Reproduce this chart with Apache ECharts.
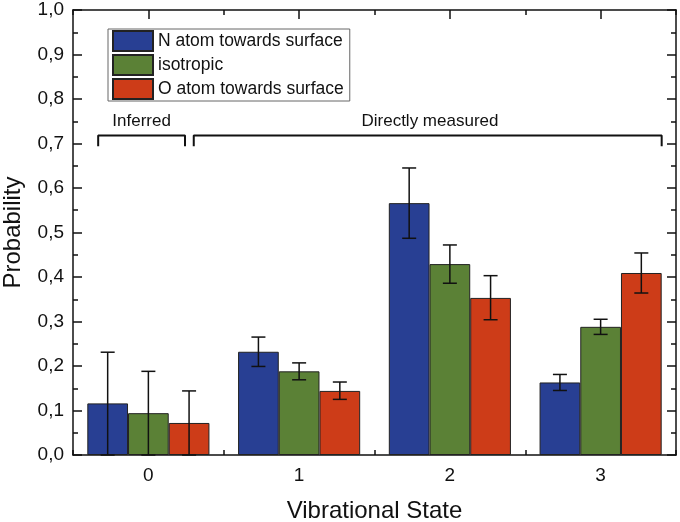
<!DOCTYPE html>
<html>
<head>
<meta charset="utf-8">
<script src="https://cdn.jsdelivr.net/npm/echarts@6/dist/echarts.min.js"></script>
<style>
html,body{margin:0;padding:0;background:#fff;}
#main{width:680px;height:522px;}
</style>
</head>
<body>
<div id="main"></div>
<script>
// ---- data ----
const categories = ['0', '1', '2', '3'];
const seriesNames = ['N atom towards surface', 'isotropic', 'O atom towards surface'];
const nValues   = [0.116, 0.232, 0.566, 0.163];
const isoValues = [0.094, 0.188, 0.429, 0.288];
const oValues   = [0.072, 0.144, 0.353, 0.409];
// error bar bounds [low, high]
const nErrLow    = [0.000, 0.199, 0.487, 0.145];
const nErrHigh   = [0.231, 0.265, 0.645, 0.181];
const isoErrLow  = [0.000, 0.169, 0.386, 0.271];
const isoErrHigh = [0.188, 0.207, 0.472, 0.305];
const oErrLow    = [0.000, 0.125, 0.304, 0.364];
const oErrHigh   = [0.144, 0.164, 0.403, 0.454];
// annotation brackets (x in category units, y in probability)
const inferredBracketX = [-0.333, 0.243];
const measuredBracketX = [0.301, 3.405];
const bracketTop = 0.718;
const bracketEnd = 0.694;
const annotationLabels = ['Inferred', 'Directly measured'];
const annotationX = [-0.045, 1.868];
const annotationY = 0.75;

const colors = ['#283f93', '#5b8136', '#cd3c18'];
const FONT = '"Liberation Sans", Arial, Helvetica, sans-serif';

const values = [nValues, isoValues, oValues];
const errLow = [nErrLow, isoErrLow, oErrLow];
const errHigh = [nErrHigh, isoErrHigh, oErrHigh];

const chart = echarts.init(document.getElementById('main'), null, {renderer: 'canvas'});

const barCategoryGap = 0.19;

function makeErrSeries(k) {
  return {
    type: 'custom',
    name: 'err' + k,
    xAxisIndex: 0,
    yAxisIndex: 0,
    z: 5,
    silent: true,
    data: categories.map((c, i) => [i, errLow[k][i], errHigh[k][i]]),
    renderItem: function (params, api) {
      const cat = api.value(0);
      const lo = api.coord([cat, api.value(1)]);
      const hi = api.coord([cat, api.value(2)]);
      const band = api.size([1, 0])[0];
      const bw = band * (1 - barCategoryGap) / 3;
      const x = lo[0] + (k - 1) * bw;
      const half = 7;
      const style = {stroke: '#111', lineWidth: 1.5, fill: null};
      return {
        type: 'group',
        children: [
          {type: 'line', shape: {x1: x, y1: lo[1], x2: x, y2: hi[1]}, style: style},
          {type: 'line', shape: {x1: x - half, y1: hi[1], x2: x + half, y2: hi[1]}, style: style},
          {type: 'line', shape: {x1: x - half, y1: lo[1], x2: x + half, y2: lo[1]}, style: style}
        ]
      };
    }
  };
}

function bracket(xs) {
  return [[xs[0], bracketEnd], [xs[0], bracketTop], [xs[1], bracketTop], [xs[1], bracketEnd]];
}

const axisLineStyle = {color: '#111', width: 1.5};

const option = {
  animation: false,
  backgroundColor: '#fff',
  textStyle: {fontFamily: FONT},
  grid: {left: 73, right: 4, top: 10, bottom: 67, containLabel: false, outerBoundsMode: 'none'},
  legend: {
    data: seriesNames,
    orient: 'vertical',
    left: 108,
    top: 29,
    itemWidth: 40,
    itemHeight: 20,
    itemGap: 2,
    padding: [1, 6, 1, 4],
    borderColor: '#666',
    borderWidth: 1,
    backgroundColor: '#fff',
    icon: 'rect',
    selectedMode: false,
    textStyle: {fontSize: 17.5, color: '#111', fontFamily: FONT}
  },
  xAxis: [
    {
      type: 'category', data: categories, position: 'bottom',
      axisLine: {show: true, onZero: false, lineStyle: axisLineStyle},
      axisTick: {show: true, inside: true, alignWithLabel: true, length: 9, lineStyle: axisLineStyle},
      axisLabel: {fontSize: 19, color: '#111', margin: 11, fontFamily: FONT},
      splitLine: {show: false},
      name: 'Vibrational State', nameLocation: 'middle', nameGap: 44,
      nameTextStyle: {fontSize: 24, color: '#111', fontFamily: FONT}
    },
    {
      type: 'category', data: categories, position: 'bottom',
      axisLine: {show: false, onZero: false},
      axisTick: {show: true, inside: true, length: 5, lineStyle: axisLineStyle},
      axisLabel: {show: false}, splitLine: {show: false}
    },
    {
      type: 'category', data: categories, position: 'top',
      axisLine: {show: true, onZero: false, lineStyle: axisLineStyle},
      axisTick: {show: true, inside: true, alignWithLabel: true, length: 9, lineStyle: axisLineStyle},
      axisLabel: {show: false}, splitLine: {show: false}
    },
    {
      type: 'category', data: categories, position: 'top',
      axisLine: {show: false, onZero: false},
      axisTick: {show: true, inside: true, length: 5, lineStyle: axisLineStyle},
      axisLabel: {show: false}, splitLine: {show: false}
    },
    {
      type: 'value', min: -0.5, max: 3.5, show: false,
      axisLine: {show: false, onZero: false}
    }
  ],
  yAxis: [
    {
      type: 'value', min: 0, max: 1, interval: 0.1, position: 'left',
      axisLine: {show: true, onZero: false, lineStyle: axisLineStyle},
      axisTick: {show: true, inside: true, length: 9, lineStyle: axisLineStyle},
      minorTick: {show: true, splitNumber: 2, length: 5, lineStyle: {color: '#111', width: 1.5}},
      axisLabel: {fontSize: 19, color: '#111', margin: 9, fontFamily: FONT,
        formatter: v => v.toFixed(1).replace('.', ',')},
      splitLine: {show: false},
      name: 'Probability', nameLocation: 'middle', nameGap: 48,
      nameTextStyle: {fontSize: 24, color: '#111', fontFamily: FONT}
    },
    {
      type: 'value', min: 0, max: 1, interval: 0.1, position: 'right',
      axisLine: {show: true, onZero: false, lineStyle: axisLineStyle},
      axisTick: {show: true, inside: true, length: 9, lineStyle: axisLineStyle},
      minorTick: {show: true, splitNumber: 2, length: 5, lineStyle: {color: '#111', width: 1.5}},
      axisLabel: {show: false},
      splitLine: {show: false}
    }
  ],
  series: [
    ...seriesNames.map((name, k) => ({
      type: 'bar',
      name: name,
      data: values[k],
      xAxisIndex: 0,
      yAxisIndex: 0,
      barGap: '0%',
      barCategoryGap: (barCategoryGap * 100) + '%',
      itemStyle: {color: colors[k], borderColor: '#222', borderWidth: 1},
      silent: true
    })),
    makeErrSeries(0),
    makeErrSeries(1),
    makeErrSeries(2),
    {
      type: 'line', name: 'bracketInferred', xAxisIndex: 4, yAxisIndex: 0,
      data: bracket(inferredBracketX), symbol: 'none', silent: true,
      lineStyle: {color: '#111', width: 2}, z: 6
    },
    {
      type: 'line', name: 'bracketMeasured', xAxisIndex: 4, yAxisIndex: 0,
      data: bracket(measuredBracketX), symbol: 'none', silent: true,
      lineStyle: {color: '#111', width: 2}, z: 6
    },
    {
      type: 'scatter', name: 'annotations', xAxisIndex: 4, yAxisIndex: 0,
      symbolSize: 0, silent: true, z: 6,
      itemStyle: {color: '#fff', opacity: 1},
      data: annotationLabels.map((t, i) => ({name: t, value: [annotationX[i], annotationY]})),
      label: {show: true, position: 'inside', formatter: p => p.name, opacity: 1,
        fontSize: 17, color: '#111', textBorderWidth: 0, textBorderColor: 'transparent',
        fontFamily: FONT}
    }
  ]
};

chart.setOption(option);
</script>
</body>
</html>
